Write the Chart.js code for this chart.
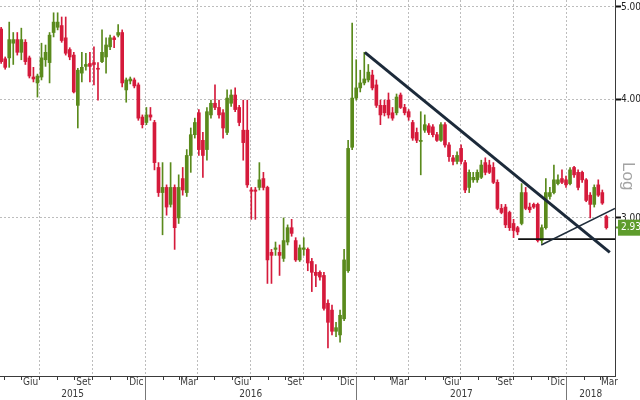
<!DOCTYPE html>
<html>
<head>
<meta charset="utf-8">
<script src="https://cdn.jsdelivr.net/npm/chart.js@4.4.1/dist/chart.umd.min.js"></script>
<style>
html,body{margin:0;padding:0;background:#fff;}
canvas{display:block;}
</style>
</head>
<body>
<canvas id="chart" width="640" height="400"></canvas>
<script>
// ---------------- data (weekly candles) ----------------
const firstWeek = '2015-04-26';
const opens = [
  4.74,4.41,4.42,4.58,4.62,4.48,4.59,4.42,4.22,4.16,
  4.22,4.40,4.37,4.70,4.76,4.78,4.64,4.51,4.45,3.94,
  4.26,4.33,4.36,4.37,4.31,4.38,4.43,4.54,4.64,4.67,
  4.70,4.09,4.18,4.19,4.14,3.83,3.78,3.85,3.78,3.39,
  3.19,3.23,3.10,3.23,3.00,3.30,3.19,3.49,3.67,3.87,
  3.62,3.54,3.85,3.96,3.92,3.87,3.69,3.96,4.04,3.92,
  3.71,3.71,3.21,3.21,3.23,3.30,3.23,2.76,2.78,2.76,
  2.72,2.83,2.93,2.84,2.71,2.78,2.78,2.70,2.63,2.63,
  2.61,2.44,2.40,2.28,2.26,2.35,2.64,3.56,4.01,4.11,
  4.16,4.19,4.24,4.14,3.94,3.94,3.99,3.87,3.87,4.04,
  3.92,3.88,3.78,3.69,3.61,3.71,3.75,3.74,3.67,3.62,
  3.76,3.58,3.47,3.44,3.55,3.43,3.23,3.29,3.29,3.31,
  3.43,3.41,3.39,3.27,3.07,3.08,3.04,2.96,2.93,2.96,
  3.19,3.08,3.10,3.10,2.84,2.93,3.16,3.19,3.26,3.30,
  3.29,3.26,3.39,3.35,3.35,3.29,3.17,3.10,3.25,3.19,
  3.01
];
const highs = [
  4.76,4.43,4.82,4.70,4.70,4.75,4.62,4.44,4.32,4.25,
  4.58,4.56,4.70,4.93,4.93,4.88,4.88,4.53,4.48,4.31,
  4.48,4.47,4.48,4.54,4.37,4.73,4.64,4.67,4.66,4.79,
  4.73,4.21,4.22,4.21,4.16,3.85,3.92,3.92,3.80,3.43,
  3.43,3.25,3.43,3.25,3.33,3.39,3.54,3.73,3.82,3.90,
  3.69,3.92,3.99,4.14,3.99,3.90,4.09,4.09,4.11,3.94,
  3.99,3.99,3.23,3.23,3.43,3.35,3.24,2.78,2.83,2.81,
  3.00,2.95,2.99,2.86,2.81,2.86,2.79,2.72,2.68,2.64,
  2.63,2.46,2.43,2.33,2.40,2.78,3.62,4.81,4.40,4.29,
  4.48,4.35,4.29,4.19,3.99,3.99,4.06,3.92,4.05,4.06,
  3.95,3.90,3.80,3.73,3.88,3.85,3.77,3.76,3.69,3.78,
  3.78,3.60,3.49,3.52,3.58,3.45,3.37,3.35,3.37,3.45,
  3.47,3.45,3.43,3.29,3.10,3.10,3.05,2.99,2.94,3.26,
  3.23,3.11,3.11,3.11,2.95,3.30,3.23,3.41,3.33,3.37,
  3.32,3.39,3.40,3.37,3.36,3.30,3.19,3.25,3.29,3.21,
  3.02
];
const lows = [
  4.36,4.30,4.32,4.35,4.45,4.40,4.35,4.21,4.17,4.02,
  4.19,4.33,4.16,4.65,4.73,4.59,4.45,4.40,4.06,3.73,
  4.17,4.29,4.17,4.14,3.99,4.37,4.26,4.51,4.53,4.65,
  4.12,3.97,4.15,4.11,3.80,3.73,3.76,3.80,3.37,3.16,
  2.88,3.02,3.08,2.78,2.96,3.17,3.16,3.35,3.64,3.49,
  3.31,3.45,3.82,3.90,3.82,3.64,3.67,3.93,3.88,3.75,
  3.45,3.23,2.99,2.99,3.21,3.21,2.56,2.56,2.74,2.61,
  2.70,2.81,2.87,2.70,2.70,2.74,2.64,2.51,2.54,2.58,
  2.40,2.19,2.26,2.25,2.22,2.34,2.63,3.54,3.99,4.07,
  4.14,4.17,4.09,3.92,3.76,3.84,3.82,3.80,3.85,3.91,
  3.85,3.80,3.62,3.60,3.33,3.69,3.67,3.65,3.61,3.61,
  3.56,3.44,3.41,3.42,3.42,3.19,3.19,3.27,3.27,3.30,
  3.33,3.34,3.26,3.06,3.03,2.93,2.91,2.86,2.88,2.95,
  3.06,3.04,3.07,2.83,2.82,2.92,3.14,3.18,3.25,3.26,
  3.23,3.25,3.31,3.21,3.27,3.12,3.00,3.08,3.16,3.10,
  2.92
];
const closes = [
  4.38,4.32,4.62,4.62,4.48,4.62,4.38,4.23,4.20,4.23,
  4.42,4.48,4.67,4.82,4.82,4.61,4.47,4.43,4.07,4.29,
  4.32,4.35,4.33,4.35,4.30,4.48,4.56,4.64,4.62,4.70,
  4.16,4.19,4.20,4.13,3.82,3.76,3.85,3.83,3.43,3.19,
  3.23,3.08,3.23,2.93,3.23,3.21,3.49,3.67,3.78,3.54,
  3.49,3.88,3.96,3.92,3.85,3.73,4.01,4.04,3.90,3.78,
  3.60,3.25,3.20,3.20,3.29,3.23,2.71,2.74,2.79,2.74,
  2.84,2.93,2.89,2.71,2.79,2.79,2.69,2.63,2.61,2.60,
  2.41,2.33,2.28,2.30,2.37,2.71,3.55,4.01,4.11,4.16,
  4.20,4.27,4.11,3.94,3.85,3.87,3.85,3.82,4.02,3.92,
  3.87,3.83,3.64,3.62,3.62,3.76,3.69,3.67,3.62,3.76,
  3.58,3.48,3.44,3.49,3.44,3.21,3.35,3.31,3.35,3.41,
  3.35,3.35,3.27,3.07,3.04,2.95,2.93,2.91,2.90,3.19,
  3.07,3.06,3.08,2.84,2.93,3.19,3.19,3.29,3.29,3.27,
  3.25,3.37,3.33,3.23,3.29,3.13,3.10,3.23,3.17,3.11,
  2.93
];

// axis ranges and labels
const xStart = '2015-04-24';
const xEnd = '2018-03-26';
const monthNames = ['Gen','Feb','Mar','Apr','Mag','Giu','Lug','Ago','Set','Ott','Nov','Dic'];
const labelledMonths = [2, 5, 8, 11];
const yearLabels = [2015, 2016, 2017, 2018];
const yGridTicks = [3, 4, 5];
const yMin = 2.046, yMax = 5.085;
const lastPrice = 2.93;
const yTitle = 'Log';

// drawn trend lines
const downTrendDates = ['2017-01-16', '2018-03-17'];
const downTrendValues = [4.48, 2.76];
const upTrendDates = ['2017-11-18', '2018-03-26'];
const upTrendValues = [2.81, 3.07];
const supportDates = ['2017-10-09', '2018-03-26'];
const supportValues = [2.85, 2.85];

// ---------------- chart ----------------
const DAY = 86400000;
const toDay = s => Date.parse(s + 'T00:00:00Z') / DAY;
const xMin = toDay(xStart), xMax = toDay(xEnd);
const week0 = toDay(firstWeek);
const candleX = opens.map((_, i) => week0 + 7 * i);

const GREEN = '#5a8a1c', RED = '#d51a3b', GRID = '#bdbdbd', INK = '#3a3a3a', LABEL_GREEN = '#5e9c2c';
const NONE = 'rgba(0,0,0,0)';
const FONT = "'Liberation Sans Narrow','DejaVu Sans Condensed','Liberation Sans',sans-serif";
const isUp = i => closes[i] >= opens[i];
const candleColor = ctx => isUp(ctx.dataIndex) ? GREEN : RED;
const kindOf = c => (c && c.tick && c.tick.kind) ? c.tick.kind : 'none';

function monthStarts() {
  const out = [];
  for (let y = 2015; y <= 2018; y++) {
    for (let m = 0; m < 12; m++) {
      const start = Date.UTC(y, m, 1) / DAY;
      if (start > xMin && start < xMax) out.push({value: start, month: m});
    }
  }
  return out;
}

// ticks of the labelled axis: year separators plus month and year labels
function buildXTicks() {
  const years = monthStarts().filter(b => b.month === 0).map(b => ({value: b.value, kind: 'year', text: []}));
  const labels = [];
  for (let y = 2015; y <= 2018; y++) {
    labelledMonths.forEach(m => {
      const mid = (Date.UTC(y, m, 1) + Date.UTC(y, m + 1, 1)) / 2 / DAY;
      if (mid > xMin && mid < xMax) labels.push({value: mid, kind: 'label', text: [monthNames[m]]});
    });
  }
  yearLabels.forEach(y => {
    const s = Math.max(xMin, Date.UTC(y, 0, 1) / DAY), e = Math.min(xMax, Date.UTC(y + 1, 0, 1) / DAY);
    labels.push({value: (s + e) / 2, kind: 'label', text: ['', String(y)]});
  });
  return [years[0], ...labels, ...years.slice(1)];
}

// ticks of the grid-only axis: quarter starts
function buildGridTicks() {
  return monthStarts().filter(b => b.month % 3 === 0).map(b => ({value: b.value, kind: 'quarter', text: []}));
}

// ticks of the minor-tick axis: every month start
function buildMonthTicks() {
  return monthStarts().map(b => ({value: b.value, kind: 'month', text: []}));
}

function buildYTicks() {
  return [
    {value: yMin, kind: 'none', text: []},
    ...yGridTicks.map(v => ({value: v, kind: 'grid', text: v.toFixed(2)})),
    {value: lastPrice, kind: 'last', text: lastPrice.toFixed(2)},
    {value: yMax, kind: 'none', text: []}
  ];
}

const linePts = (dates, vals) => dates.map((d, i) => ({x: toDay(d), y: vals[i]}));

new Chart(document.getElementById('chart'), {
  type: 'bar',
  data: {
    datasets: [
      {type: 'line', data: linePts(downTrendDates, downTrendValues), borderColor: '#1c2a3a', borderWidth: 3, pointRadius: 0, order: 0},
      {type: 'line', data: linePts(upTrendDates, upTrendValues), borderColor: '#1e2c3a', borderWidth: 1.5, pointRadius: 0, order: 0},
      {type: 'line', data: linePts(supportDates, supportValues), borderColor: '#111111', borderWidth: 1.6, pointRadius: 0, order: 0},
      {data: candleX.map((x, i) => ({x, y: [opens[i], closes[i]]})), backgroundColor: candleColor,
       barThickness: 3, maxBarThickness: 3, barPercentage: 50, categoryPercentage: 1, grouped: false, minBarLength: 1, borderWidth: 0, order: 1},
      {data: candleX.map((x, i) => ({x, y: [lows[i], highs[i]]})), backgroundColor: candleColor,
       barThickness: 1, maxBarThickness: 1, barPercentage: 50, categoryPercentage: 1, grouped: false, borderWidth: 0, order: 2}
    ]
  },
  options: {
    responsive: false,
    animation: false,
    layout: {padding: 0, autoPadding: false},
    plugins: {legend: {display: false}, tooltip: {enabled: false}},
    scales: {
      xg: {
        type: 'linear', position: 'bottom', min: xMin, max: xMax, offset: false, weight: 1,
        grid: {offset: false, lineWidth: 1, color: GRID, drawTicks: false, drawOnChartArea: true},
        border: {display: false, dash: [2, 2]},
        afterBuildTicks: s => { s.ticks = buildGridTicks(); },
        afterFit: s => { s.height = 0; },
        ticks: {display: false, autoSkip: false, maxRotation: 0, callback: (v, i, t) => t[i].text}
      },
      xm: {
        type: 'linear', position: 'bottom', min: xMin, max: xMax, offset: false, weight: -1,
        grid: {offset: false, lineWidth: 1, color: INK, drawTicks: true, drawOnChartArea: false, tickLength: 4, tickWidth: 1, tickColor: INK},
        border: {display: false},
        afterBuildTicks: s => { s.ticks = buildMonthTicks(); },
        afterFit: s => { s.height = 0; },
        ticks: {display: false, autoSkip: false, maxRotation: 0, callback: (v, i, t) => t[i].text}
      },
      x: {
        type: 'linear', position: 'bottom', min: xMin, max: xMax, offset: false, weight: 0,
        grid: {
          offset: false, lineWidth: 1, drawTicks: true, drawOnChartArea: false, tickLength: 24, tickWidth: 1,
          tickColor: c => kindOf(c) === 'year' ? '#777' : NONE
        },
        border: {display: true, color: INK, width: 1},
        afterBuildTicks: s => { s.ticks = buildXTicks(); },
        afterFit: s => { s.height = 24; },
        ticks: {
          autoSkip: false, maxRotation: 0, minRotation: 0, padding: -24, color: INK,
          font: {family: FONT, size: 10, lineHeight: 1.25},
          callback: (v, i, t) => t[i].text
        }
      },
      y: {
        type: 'logarithmic', position: 'right', min: yMin, max: yMax,
        grid: {
          lineWidth: 1, drawTicks: true, tickLength: 6, tickWidth: 2,
          color: c => kindOf(c) === 'grid' ? GRID : NONE,
          tickColor: c => kindOf(c) === 'grid' ? '#111' : (kindOf(c) === 'last' ? LABEL_GREEN : NONE)
        },
        border: {display: true, color: INK, width: 1, dash: [2, 2]},
        afterBuildTicks: s => { s.ticks = buildYTicks(); },
        afterFit: s => { s.width = 25; },
        ticks: {
          autoSkip: false, padding: 0,
          font: {family: FONT, size: 10},
          color: c => kindOf(c) === 'last' ? '#ffffff' : '#222222',
          showLabelBackdrop: c => kindOf(c) === 'last',
          backdropColor: LABEL_GREEN,
          backdropPadding: {top: 2, bottom: 2, left: 3, right: 3},
          callback: (v, i, t) => t[i].text
        },
        title: {
          display: true, text: yTitle + '     ', color: '#a3a3a3',
          font: {family: "'Liberation Sans',sans-serif", size: 17},
          padding: {top: 1.8, bottom: 0}
        }
      }
    }
  }
});
</script>
</body>
</html>
